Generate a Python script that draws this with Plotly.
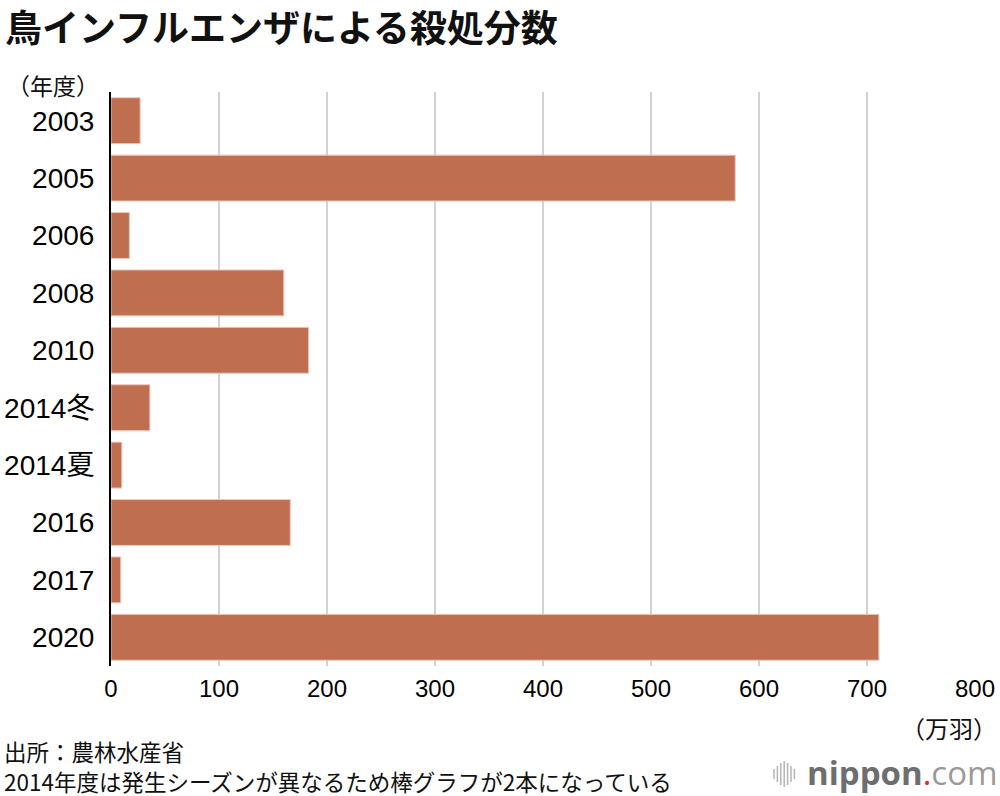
import plotly.graph_objects as go

categories = ["2003", "2005", "2006", "2008", "2010", "2014冬", "2014夏", "2016", "2017", "2020"]
values = [27, 578, 17, 160, 183, 36, 10, 166, 9, 711]
x_ticks = [0, 100, 200, 300, 400, 500, 600, 700, 800]

FONT = "Liberation Sans, Noto Sans CJK JP, sans-serif"
JP = "Noto Sans CJK JP, sans-serif"

# plot area in pixels: left 111, right 975, top 92, bottom 666
L, R, T, B = 111, 25, 92, 130
PW, PH = 1000 - L - R, 796 - T - B


def px(x):
    return (x - L) / PW


def py(y):
    return (796 - B - y) / PH


fig = go.Figure()
fig.add_trace(go.Bar(
    y=categories, x=values, orientation="h",
    marker=dict(color="#bf6f50", line=dict(color="#ecc9b9", width=1)),
    hoverinfo="x+y",
))

fig.update_layout(
    width=1000, height=796,
    margin=dict(l=L, r=R, t=T, b=B, autoexpand=False),
    paper_bgcolor="white", plot_bgcolor="white",
    bargap=0.2,
    showlegend=False,
    font=dict(family=FONT, color="#000"),
    xaxis=dict(
        range=[0, 800], tickvals=x_ticks, ticktext=[str(v) for v in x_ticks],
        showgrid=True, gridcolor="#d2d2d2", gridwidth=2,
        zeroline=False, showline=False, ticks="", automargin=False,
        tickfont=dict(size=24, family=FONT), ticklabelstandoff=6,
        fixedrange=True,
    ),
    yaxis=dict(
        categoryorder="array", categoryarray=categories[::-1],
        autorange=False, range=[-0.5, len(categories) - 0.5],
        showline=True, linecolor="#000", linewidth=2, automargin=False,
        showgrid=False, ticks="", tickfont=dict(size=28, family=FONT),
        ticklabelstandoff=9, fixedrange=True,
    ),
)

fig.add_annotation(text="<b>鳥インフルエンザによる殺処分数</b>", xref="paper", yref="paper",
                   x=px(3), y=py(26), xanchor="left", yanchor="middle", showarrow=False,
                   font=dict(size=37, family=JP, color="#111"))
fig.add_annotation(text="（年度）", xref="paper", yref="paper",
                   x=px(5), y=py(85), xanchor="left", yanchor="middle", showarrow=False,
                   font=dict(size=23, family=JP, color="#111"))
fig.add_annotation(text="（万羽）", xref="paper", yref="paper",
                   x=px(999), y=py(727), xanchor="right", yanchor="middle", showarrow=False,
                   font=dict(size=24, family=JP, color="#111"))
fig.add_annotation(text="出所：農林水産省", xref="paper", yref="paper",
                   x=px(2), y=py(751), xanchor="left", yanchor="middle", showarrow=False,
                   font=dict(size=22.5, family=JP, color="#111"))
fig.add_annotation(text="2014年度は発生シーズンが異なるため棒グラフが2本になっている", xref="paper", yref="paper",
                   x=px(2), y=py(780.5), xanchor="left", yanchor="middle", showarrow=False,
                   font=dict(size=22.5, family=JP, color="#111"))
fig.add_annotation(text="<b>nippon</b><span style='color:#e8262f'>.</span><span style='color:#9a9a9a'>com</span>",
                   xref="paper", yref="paper", x=px(1000), y=py(772), xanchor="right", yanchor="middle",
                   showarrow=False, font=dict(size=33, family="Open Sans, sans-serif", color="#6e6e6e"))
# logo icon bars
half_heights = [5, 8, 11, 13, 11, 8, 5]
for i, h in enumerate(half_heights):
    xp = 774 + i * 3.4
    fig.add_shape(type="line", xref="paper", yref="paper",
                  x0=px(xp), x1=px(xp), y0=py(774 + h), y1=py(774 - h),
                  line=dict(color="#b5b5b5", width=1.5))

fig.write_html("out.html", config={"displayModeBar": False},
               post_script="document.body.style.margin='0';")
